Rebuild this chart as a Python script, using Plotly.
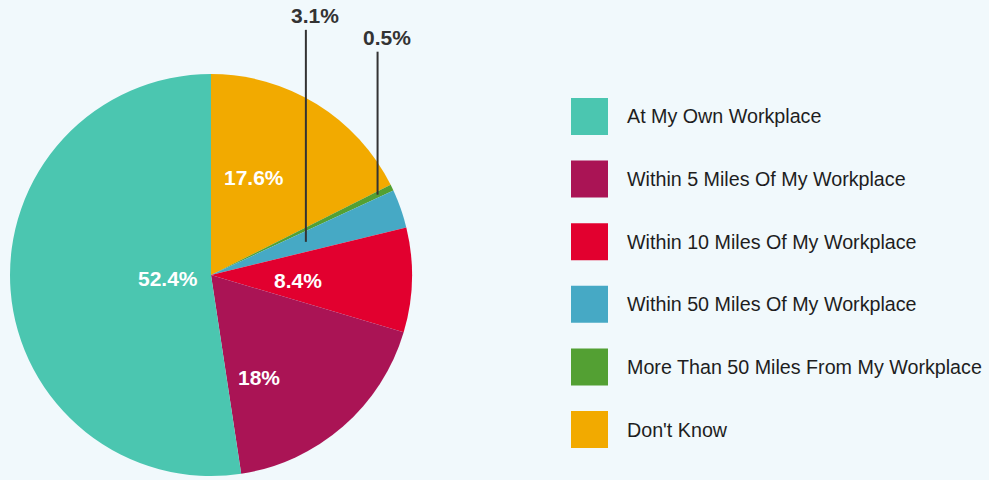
import math
import plotly.graph_objects as go

# Datos del gráfico
labels = ["At My Own Workplace", "Within 5 Miles Of My Workplace", "Within 10 Miles Of My Workplace",
          "Within 50 Miles Of My Workplace", "More Than 50 Miles From My Workplace", "Don't Know"]
values = [52.4, 18, 8.4, 3.1, 0.5, 17.6]
value_text = ["52.4%", "18%", "8.4%", "3.1%", "0.5%", "17.6%"]
colors = ["#4BC6B0", "#AA1455", "#E2002F", "#46A9C5", "#53A033", "#F2AA00"]

# Colocación de etiquetas (fracción del radio, ajuste angular, fuera/dentro)
label_r = [0.215, 0.565, 0.435, 0.5, 0.92, 0.53]
label_nudge = [0, 16, 2, 0, 0, -8]
outside = [False, False, False, True, True, False]
lift = [0, 0, 0, 212, 143, 0]

W, H = 989, 480
CX, CY, R = 211, 275, 201
FONT = "Arial, Liberation Sans, sans-serif"


def px(x):
    return x / W


def py(y):
    return 1 - y / H


# el orden invertido en sentido horario equivale a antihorario desde las 12
fig = go.Figure(go.Pie(
    labels=labels[::-1], values=values[::-1], sort=False, direction="clockwise", rotation=0,
    marker=dict(colors=colors[::-1], line=dict(width=0)), textinfo="none", hoverinfo="label+percent",
    domain=dict(x=[px(CX - R), px(CX + R)], y=[py(CY + R), py(CY - R)]),
))

annotations = []
shapes = []
total = sum(values)
cum = 0
for i, v in enumerate(values):
    mid = (cum + v / 2) / total
    cum += v
    theta = math.radians(360 * (1 - mid) + label_nudge[i])
    r = label_r[i] * R
    x = CX + r * math.sin(theta)
    y = CY - r * math.cos(theta)
    if outside[i]:
        top = y - lift[i]
        shapes.append(dict(type="line", xref="paper", yref="paper", x0=px(x), x1=px(x), y0=py(y), y1=py(top),
                           line=dict(color="#333333", width=2)))
        annotations.append(dict(x=px(x + 9), y=py(top - 14), xref="paper", yref="paper", text=value_text[i],
                                showarrow=False, xanchor="center", yanchor="middle",
                                font=dict(family=FONT, size=21, color="#333333", weight="bold")))
    else:
        annotations.append(dict(x=px(x), y=py(y), xref="paper", yref="paper", text=value_text[i],
                                showarrow=False, xanchor="center", yanchor="middle",
                                font=dict(family=FONT, size=21, color="white", weight="bold")))

# Leyenda manual con cuadros grandes
for i, lab in enumerate(labels):
    yc = 116.5 + i * 62.6
    shapes.append(dict(type="rect", xref="paper", yref="paper", x0=px(571), x1=px(608),
                       y0=py(yc - 18.5), y1=py(yc + 18.5), fillcolor=colors[i], line=dict(width=0)))
    annotations.append(dict(x=px(625), y=py(yc), xref="paper", yref="paper", text=lab, showarrow=False,
                            xanchor="left", yanchor="middle", font=dict(family=FONT, size=19.7, color="#1E1E1E")))

fig.update_layout(
    width=W, height=H, margin=dict(l=0, r=0, t=0, b=0),
    paper_bgcolor="#F1F9FC", plot_bgcolor="#F1F9FC", showlegend=False,
    annotations=annotations, shapes=shapes,
)

fig.write_html("out.html", config={"displayModeBar": False},
               post_script="document.body.style.margin='0';")
